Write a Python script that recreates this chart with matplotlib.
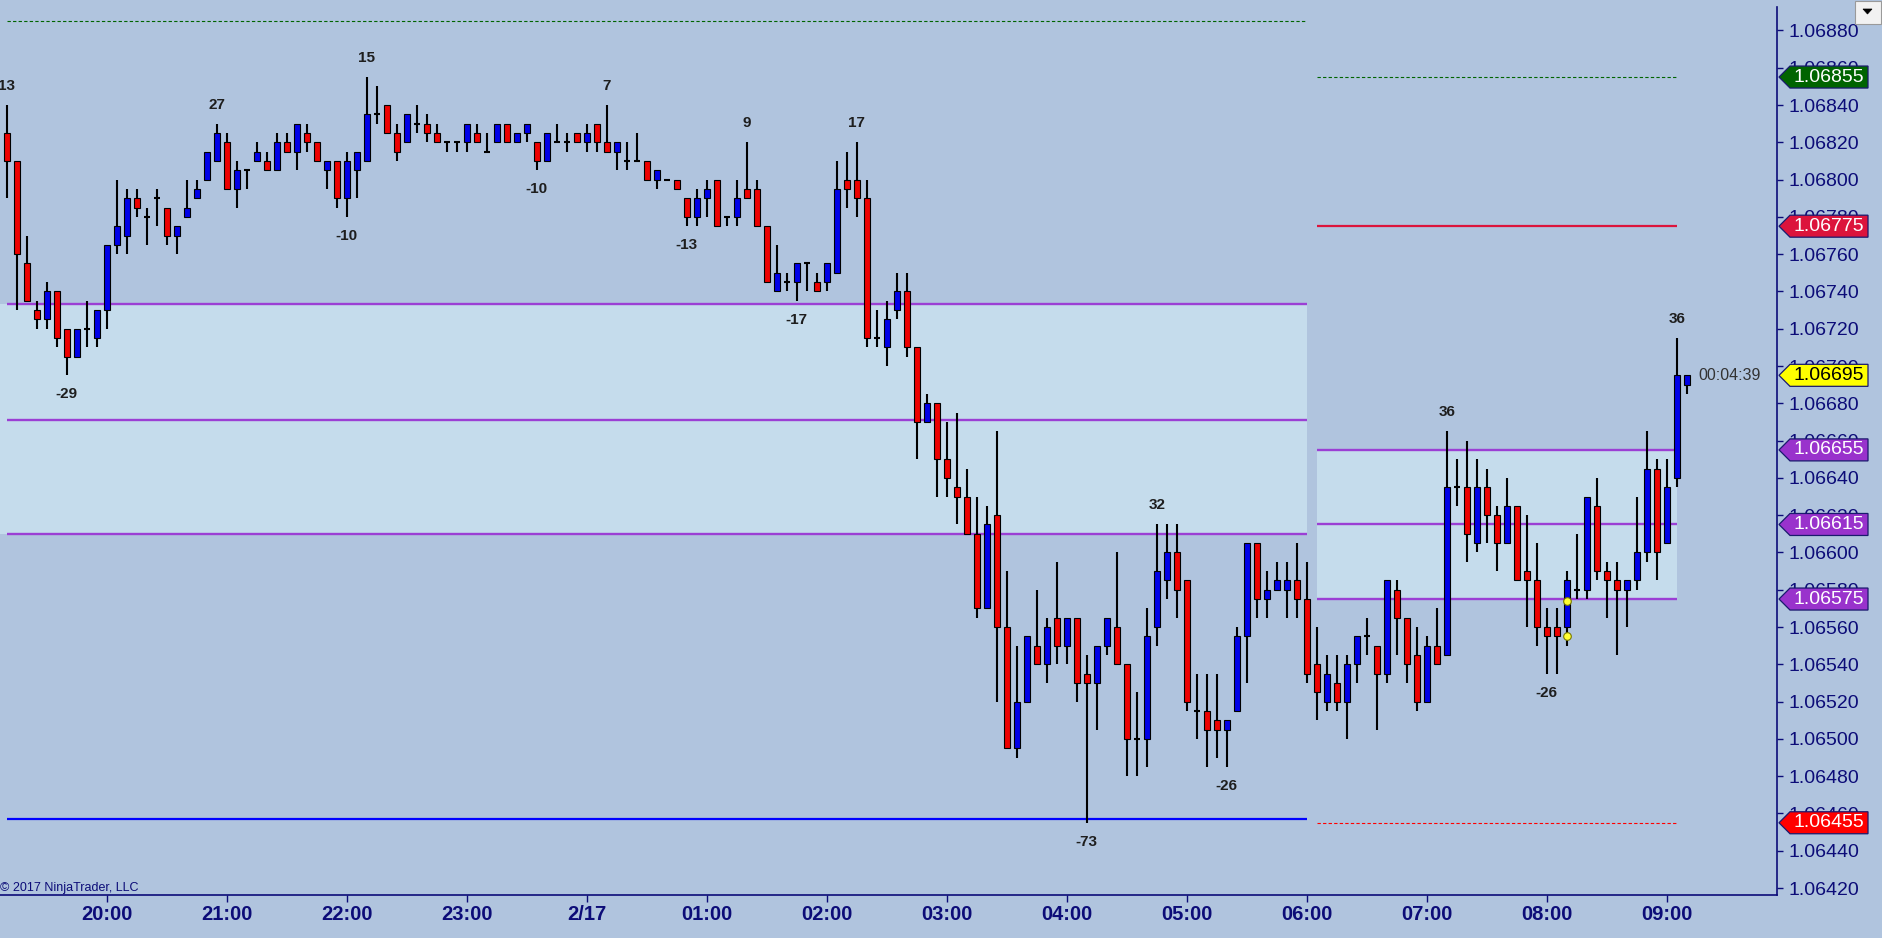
import numpy as np
import pandas as pd
import matplotlib
matplotlib.use('Agg')
import matplotlib.pyplot as plt
from matplotlib.patches import Polygon, Rectangle
import matplotlib.transforms as mtransforms

plt.rcParams['font.family'] = ['Liberation Sans', 'DejaVu Sans']

# ---------------- data: 5-minute EURUSD bars ----------------
first_bar_time = '2017-02-16 19:10'

opens = [1.06825, 1.06810, 1.06755, 1.06730, 1.06725, 1.06740, 1.06720, 1.06705, 1.06720, 1.06715,
         1.06730, 1.06765, 1.06770, 1.06790, 1.06780, 1.06790, 1.06785, 1.06770, 1.06780, 1.06790,
         1.06800, 1.06810, 1.06820, 1.06795, 1.06805, 1.06810, 1.06810, 1.06805, 1.06820, 1.06815,
         1.06825, 1.06820, 1.06805, 1.06810, 1.06790, 1.06805, 1.06810, 1.06835, 1.06840, 1.06825,
         1.06820, 1.06830, 1.06830, 1.06825, 1.06820, 1.06820, 1.06820, 1.06825, 1.06815, 1.06820,
         1.06830, 1.06820, 1.06825, 1.06820, 1.06810, 1.06820, 1.06820, 1.06825, 1.06820, 1.06830,
         1.06820, 1.06815, 1.06810, 1.06810, 1.06810, 1.06800, 1.06800, 1.06800, 1.06790, 1.06780,
         1.06790, 1.06800, 1.06780, 1.06780, 1.06795, 1.06795, 1.06775, 1.06740, 1.06745, 1.06745,
         1.06755, 1.06745, 1.06745, 1.06750, 1.06800, 1.06800, 1.06790, 1.06715, 1.06710, 1.06730,
         1.06740, 1.06710, 1.06670, 1.06680, 1.06650, 1.06635, 1.06630, 1.06610, 1.06570, 1.06620,
         1.06560, 1.06495, 1.06520, 1.06550, 1.06540, 1.06565, 1.06550, 1.06565, 1.06535, 1.06530,
         1.06550, 1.06560, 1.06540, 1.06500, 1.06500, 1.06560, 1.06585, 1.06600, 1.06585, 1.06515,
         1.06515, 1.06510, 1.06505, 1.06515, 1.06555, 1.06605, 1.06575, 1.06580, 1.06580, 1.06585,
         1.06575, 1.06540, 1.06520, 1.06530, 1.06520, 1.06540, 1.06555, 1.06550, 1.06535, 1.06580,
         1.06565, 1.06545, 1.06520, 1.06550, 1.06545, 1.06635, 1.06635, 1.06605, 1.06635, 1.06620,
         1.06605, 1.06625, 1.06590, 1.06585, 1.06560, 1.06560, 1.06560, 1.06580, 1.06580, 1.06625,
         1.06590, 1.06585, 1.06580, 1.06585, 1.06600, 1.06645, 1.06605, 1.06640, 1.06690]

highs = [1.06840, 1.06810, 1.06770, 1.06735, 1.06745, 1.06740, 1.06720, 1.06720, 1.06735, 1.06730,
         1.06765, 1.06800, 1.06795, 1.06795, 1.06785, 1.06795, 1.06785, 1.06775, 1.06800, 1.06800,
         1.06815, 1.06830, 1.06825, 1.06810, 1.06805, 1.06820, 1.06815, 1.06825, 1.06825, 1.06830,
         1.06830, 1.06820, 1.06810, 1.06810, 1.06815, 1.06815, 1.06855, 1.06850, 1.06840, 1.06830,
         1.06835, 1.06840, 1.06835, 1.06830, 1.06820, 1.06820, 1.06830, 1.06830, 1.06825, 1.06830,
         1.06830, 1.06825, 1.06830, 1.06820, 1.06825, 1.06830, 1.06825, 1.06825, 1.06830, 1.06830,
         1.06840, 1.06820, 1.06820, 1.06825, 1.06810, 1.06805, 1.06800, 1.06800, 1.06790, 1.06795,
         1.06800, 1.06800, 1.06780, 1.06800, 1.06820, 1.06800, 1.06775, 1.06765, 1.06750, 1.06755,
         1.06755, 1.06750, 1.06755, 1.06810, 1.06815, 1.06820, 1.06800, 1.06730, 1.06735, 1.06750,
         1.06750, 1.06710, 1.06685, 1.06680, 1.06670, 1.06675, 1.06645, 1.06630, 1.06625, 1.06665,
         1.06590, 1.06550, 1.06555, 1.06580, 1.06565, 1.06595, 1.06565, 1.06565, 1.06545, 1.06550,
         1.06565, 1.06600, 1.06540, 1.06525, 1.06570, 1.06615, 1.06615, 1.06615, 1.06585, 1.06535,
         1.06535, 1.06535, 1.06510, 1.06560, 1.06605, 1.06605, 1.06590, 1.06595, 1.06595, 1.06605,
         1.06595, 1.06560, 1.06545, 1.06545, 1.06545, 1.06555, 1.06565, 1.06550, 1.06585, 1.06585,
         1.06565, 1.06560, 1.06555, 1.06570, 1.06665, 1.06650, 1.06660, 1.06650, 1.06645, 1.06625,
         1.06640, 1.06625, 1.06620, 1.06605, 1.06570, 1.06570, 1.06590, 1.06610, 1.06630, 1.06640,
         1.06595, 1.06595, 1.06585, 1.06630, 1.06665, 1.06650, 1.06650, 1.06715, 1.06695]

lows = [1.06790, 1.06730, 1.06735, 1.06720, 1.06720, 1.06710, 1.06695, 1.06705, 1.06710, 1.06710,
        1.06720, 1.06760, 1.06760, 1.06780, 1.06765, 1.06775, 1.06765, 1.06760, 1.06780, 1.06790,
        1.06800, 1.06810, 1.06795, 1.06785, 1.06795, 1.06810, 1.06805, 1.06805, 1.06815, 1.06805,
        1.06815, 1.06810, 1.06795, 1.06785, 1.06780, 1.06790, 1.06810, 1.06830, 1.06825, 1.06810,
        1.06820, 1.06825, 1.06820, 1.06820, 1.06815, 1.06815, 1.06815, 1.06820, 1.06815, 1.06820,
        1.06820, 1.06820, 1.06820, 1.06805, 1.06810, 1.06820, 1.06815, 1.06820, 1.06815, 1.06815,
        1.06815, 1.06805, 1.06805, 1.06810, 1.06800, 1.06795, 1.06800, 1.06795, 1.06775, 1.06775,
        1.06780, 1.06775, 1.06775, 1.06775, 1.06790, 1.06775, 1.06745, 1.06740, 1.06740, 1.06735,
        1.06740, 1.06740, 1.06740, 1.06750, 1.06785, 1.06780, 1.06710, 1.06710, 1.06700, 1.06725,
        1.06705, 1.06650, 1.06670, 1.06630, 1.06630, 1.06615, 1.06610, 1.06565, 1.06570, 1.06520,
        1.06495, 1.06490, 1.06520, 1.06540, 1.06530, 1.06540, 1.06540, 1.06520, 1.06455, 1.06505,
        1.06545, 1.06540, 1.06480, 1.06480, 1.06485, 1.06550, 1.06575, 1.06565, 1.06515, 1.06500,
        1.06485, 1.06490, 1.06485, 1.06515, 1.06530, 1.06565, 1.06565, 1.06580, 1.06565, 1.06565,
        1.06530, 1.06510, 1.06515, 1.06515, 1.06500, 1.06530, 1.06545, 1.06505, 1.06530, 1.06545,
        1.06530, 1.06515, 1.06520, 1.06540, 1.06545, 1.06625, 1.06595, 1.06600, 1.06605, 1.06590,
        1.06605, 1.06585, 1.06560, 1.06550, 1.06535, 1.06535, 1.06550, 1.06575, 1.06575, 1.06585,
        1.06565, 1.06545, 1.06560, 1.06580, 1.06595, 1.06585, 1.06605, 1.06635, 1.06685]

closes = [1.06810, 1.06760, 1.06735, 1.06725, 1.06740, 1.06715, 1.06705, 1.06720, 1.06720, 1.06730,
          1.06765, 1.06775, 1.06790, 1.06785, 1.06780, 1.06790, 1.06770, 1.06775, 1.06785, 1.06795,
          1.06815, 1.06825, 1.06795, 1.06805, 1.06805, 1.06815, 1.06805, 1.06820, 1.06815, 1.06830,
          1.06820, 1.06810, 1.06810, 1.06790, 1.06810, 1.06815, 1.06835, 1.06835, 1.06825, 1.06815,
          1.06835, 1.06830, 1.06825, 1.06820, 1.06820, 1.06820, 1.06830, 1.06820, 1.06815, 1.06830,
          1.06820, 1.06825, 1.06830, 1.06810, 1.06825, 1.06820, 1.06820, 1.06820, 1.06825, 1.06820,
          1.06815, 1.06820, 1.06810, 1.06810, 1.06800, 1.06805, 1.06800, 1.06795, 1.06780, 1.06790,
          1.06795, 1.06775, 1.06780, 1.06790, 1.06790, 1.06775, 1.06745, 1.06750, 1.06745, 1.06755,
          1.06755, 1.06740, 1.06755, 1.06795, 1.06795, 1.06790, 1.06715, 1.06715, 1.06725, 1.06740,
          1.06710, 1.06670, 1.06680, 1.06650, 1.06640, 1.06630, 1.06610, 1.06570, 1.06615, 1.06560,
          1.06495, 1.06520, 1.06555, 1.06540, 1.06560, 1.06550, 1.06565, 1.06530, 1.06530, 1.06550,
          1.06565, 1.06540, 1.06500, 1.06500, 1.06555, 1.06590, 1.06600, 1.06580, 1.06520, 1.06515,
          1.06505, 1.06505, 1.06510, 1.06555, 1.06605, 1.06575, 1.06580, 1.06585, 1.06585, 1.06575,
          1.06535, 1.06525, 1.06535, 1.06520, 1.06540, 1.06555, 1.06555, 1.06535, 1.06585, 1.06565,
          1.06540, 1.06520, 1.06550, 1.06540, 1.06635, 1.06635, 1.06610, 1.06635, 1.06620, 1.06605,
          1.06625, 1.06585, 1.06585, 1.06560, 1.06555, 1.06555, 1.06585, 1.06580, 1.06630, 1.06590,
          1.06585, 1.06580, 1.06585, 1.06600, 1.06645, 1.06600, 1.06635, 1.06695, 1.06695]

# swing labels (bar index, text, above/below)
swing_bars = [0, 6, 21, 34, 36, 53, 60, 68, 74, 79, 85, 108, 115, 122, 144, 154, 167]
swing_text = ['13', '-29', '27', '-10', '15', '-10', '7', '-13', '9', '-17', '17', '-73', '32', '-26', '36', '-26', '36']
swing_is_high = [True, False, True, False, True, False, True, False, True, False, True, False, True, False, True, False, True]

# signal dots
dot_bars = [156, 156]
dot_prices = [1.06574, 1.06555]

# prior session levels (bars 0..130)
prev_session_end = 130
prev_green = 1.06885
prev_va_high = 1.06733
prev_poc = 1.06671
prev_va_low = 1.06610
prev_low_line = 1.06457

# current session levels (bars 131..167)
cur_start, cur_end = 131, 167
cur_green = 1.06855
cur_red = 1.06775
cur_va_high = 1.06655
cur_poc = 1.06615
cur_va_low = 1.06575
cur_red_dotted = 1.06455

last_price = 1.06695
countdown = '00:04:39'

tag_prices = [1.06855, 1.06775, 1.06695, 1.06655, 1.06615, 1.06575, 1.06455]
tag_faces = ['#006400', '#dc143c', '#ffff00', '#9932cc', '#9932cc', '#9932cc', '#ff0000']
tag_text = ['white', 'white', 'black', 'white', 'white', 'white', 'white']

y_ticks = [1.06420, 1.06440, 1.06460, 1.06480, 1.06500, 1.06520, 1.06540, 1.06560, 1.06580,
           1.06600, 1.06620, 1.06640, 1.06660, 1.06680, 1.06700, 1.06720, 1.06740, 1.06760,
           1.06780, 1.06800, 1.06820, 1.06840, 1.06860, 1.06880]

# ---------------- styling ----------------
BG = '#b0c4de'
FILL = '#c5dcec'
NAVY = '#0c0c78'
PURPLE = '#9b3fd4'
UPC = '#0000e8'
DNC = '#ee0000'

W, H = 1882, 938
fig = plt.figure(figsize=(W / 100, H / 100), dpi=100, facecolor=BG)
ax_left, ax_right_px, ax_top_px, ax_bot_px = 0, 1777, 7, 895
ax = fig.add_axes([0, (H - ax_bot_px) / H, ax_right_px / W, (ax_bot_px - ax_top_px) / H])
ax.set_facecolor(BG)

o = np.array(opens); h = np.array(highs); l = np.array(lows); c = np.array(closes)
n = len(o)
x = np.arange(n)
times = pd.date_range(first_bar_time, periods=n, freq='5min')

xmin, xmax = -0.67, 177.03
ymin, ymax = 1.0641625, 1.0689257
ax.set_xlim(xmin, xmax)
ax.set_ylim(ymin, ymax)

# session zones
ax.fill_between([xmin, prev_session_end], prev_va_low, prev_va_high, color=FILL, lw=0, zorder=0.5)
ax.fill_between([cur_start, cur_end], cur_va_low, cur_va_high, color=FILL, lw=0, zorder=0.5)

for lvl in (prev_va_high, prev_poc, prev_va_low):
    ax.hlines(lvl, 0, prev_session_end, color=PURPLE, lw=1.7, zorder=1)
ax.hlines(prev_low_line, 0, prev_session_end, color='#0000ff', lw=1.6, zorder=1)
ax.hlines(prev_green, 0, prev_session_end, color='#006400', lw=0.8, linestyles=(0, (3, 2)), zorder=1)

for lvl in (cur_va_high, cur_poc, cur_va_low):
    ax.hlines(lvl, cur_start, cur_end, color=PURPLE, lw=1.7, zorder=1)
ax.hlines(cur_green, cur_start, cur_end, color='#006400', lw=0.8, linestyles=(0, (3, 2)), zorder=1)
ax.hlines(cur_red, cur_start, cur_end, color='#dc143c', lw=1.6, zorder=1)
ax.hlines(cur_red_dotted, cur_start, cur_end, color='#ff0000', lw=0.8, linestyles=(0, (3, 2)), zorder=1)

# candles
ax.vlines(x, l, h, color='black', lw=1.5, zorder=3)
up = c > o
dn = c < o
fl = c == o
bw = 0.62
ax.bar(x[up], (c - o)[up], bottom=o[up], width=bw, color=UPC, edgecolor='black', lw=0.8, zorder=4)
ax.bar(x[dn], (o - c)[dn], bottom=c[dn], width=bw, color=DNC, edgecolor='black', lw=0.8, zorder=4)
ax.hlines(o[fl], x[fl] - bw / 2, x[fl] + bw / 2, color='black', lw=1.5, zorder=4)

ax.plot(dot_bars, dot_prices, 'o', ms=5.5, mfc='#ffff33', mec='#7a7a00', mew=0.8, zorder=5)

# swing labels
for b, t, hi in zip(swing_bars, swing_text, swing_is_high):
    yv = h[b] if hi else l[b]
    off = 19 if hi else -19
    ax.annotate(t, (b, yv), xytext=(0, off), textcoords='offset pixels', ha='center', va='center',
                fontsize=11, fontweight='bold', color='#1e1e1e', zorder=6, annotation_clip=False)

ax.text(169.13, last_price, countdown, ha='left', va='center', fontsize=11.5, color='#333333', zorder=6)

# axes styling
for s in ('top', 'left'):
    ax.spines[s].set_visible(False)
for s in ('right', 'bottom'):
    ax.spines[s].set_color(NAVY)
    ax.spines[s].set_linewidth(1.2)
ax.yaxis.tick_right()
ax.set_yticks(y_ticks)
ax.set_yticklabels([f'{v:.5f}' for v in y_ticks])
ax.tick_params(axis='y', direction='out', length=4.3, width=1, color=NAVY, labelcolor=NAVY,
               labelsize=14, pad=4)
hour_idx = [i for i, t in enumerate(times) if t.minute == 0]
hour_lab = [('2/17' if times[i].hour == 0 else times[i].strftime('%H:%M')) for i in hour_idx]
ax.set_xticks(hour_idx)
ax.set_xticklabels(hour_lab, fontweight='bold')
ax.tick_params(axis='x', direction='out', length=5, width=1, color=NAVY, labelcolor=NAVY,
               labelsize=14.5, pad=2)

# price tags on the right axis
trans = mtransforms.blended_transform_factory(ax.transAxes, ax.transData)
AXW = float(ax_right_px)
pxy = (ymax - ymin) / (ax_bot_px - ax_top_px)
hh = 11 * pxy
for p, fc, tc in zip(tag_prices, tag_faces, tag_text):
    xt, xl, xr = 1 + 2 / AXW, 1 + 13 / AXW, 1 + 91 / AXW
    poly = Polygon([(xt, p), (xl, p + hh), (xr, p + hh), (xr, p - hh), (xl, p - hh)], closed=True,
                   transform=trans, facecolor=fc, edgecolor='#1a1a6e', lw=0.9, clip_on=False, zorder=10)
    ax.add_patch(poly)
    ax.text(1 + 52 / AXW, p, f'{p:.5f}', transform=trans, ha='center', va='center', color=tc,
            fontsize=14, zorder=11, clip_on=False)

# copyright
fig.text(0.0, (H - 888) / H, '\u00a9 2017 NinjaTrader, LLC', ha='left', va='center', fontsize=9, color=NAVY)

# dropdown button
fig.patches.append(Rectangle((1855 / W, 1 - 24 / H), 26 / W, 23 / H, transform=fig.transFigure,
                             facecolor='#f2f2f2', edgecolor='#9a9a9a', lw=0.8))
fig.patches.append(Polygon([(1863 / W, 1 - 9 / H), (1872 / W, 1 - 9 / H), (1867.5 / W, 1 - 14 / H)],
                           closed=True, transform=fig.transFigure, facecolor='black', edgecolor='black', lw=0.5))

fig.savefig('out.png', dpi=100, facecolor=BG)
